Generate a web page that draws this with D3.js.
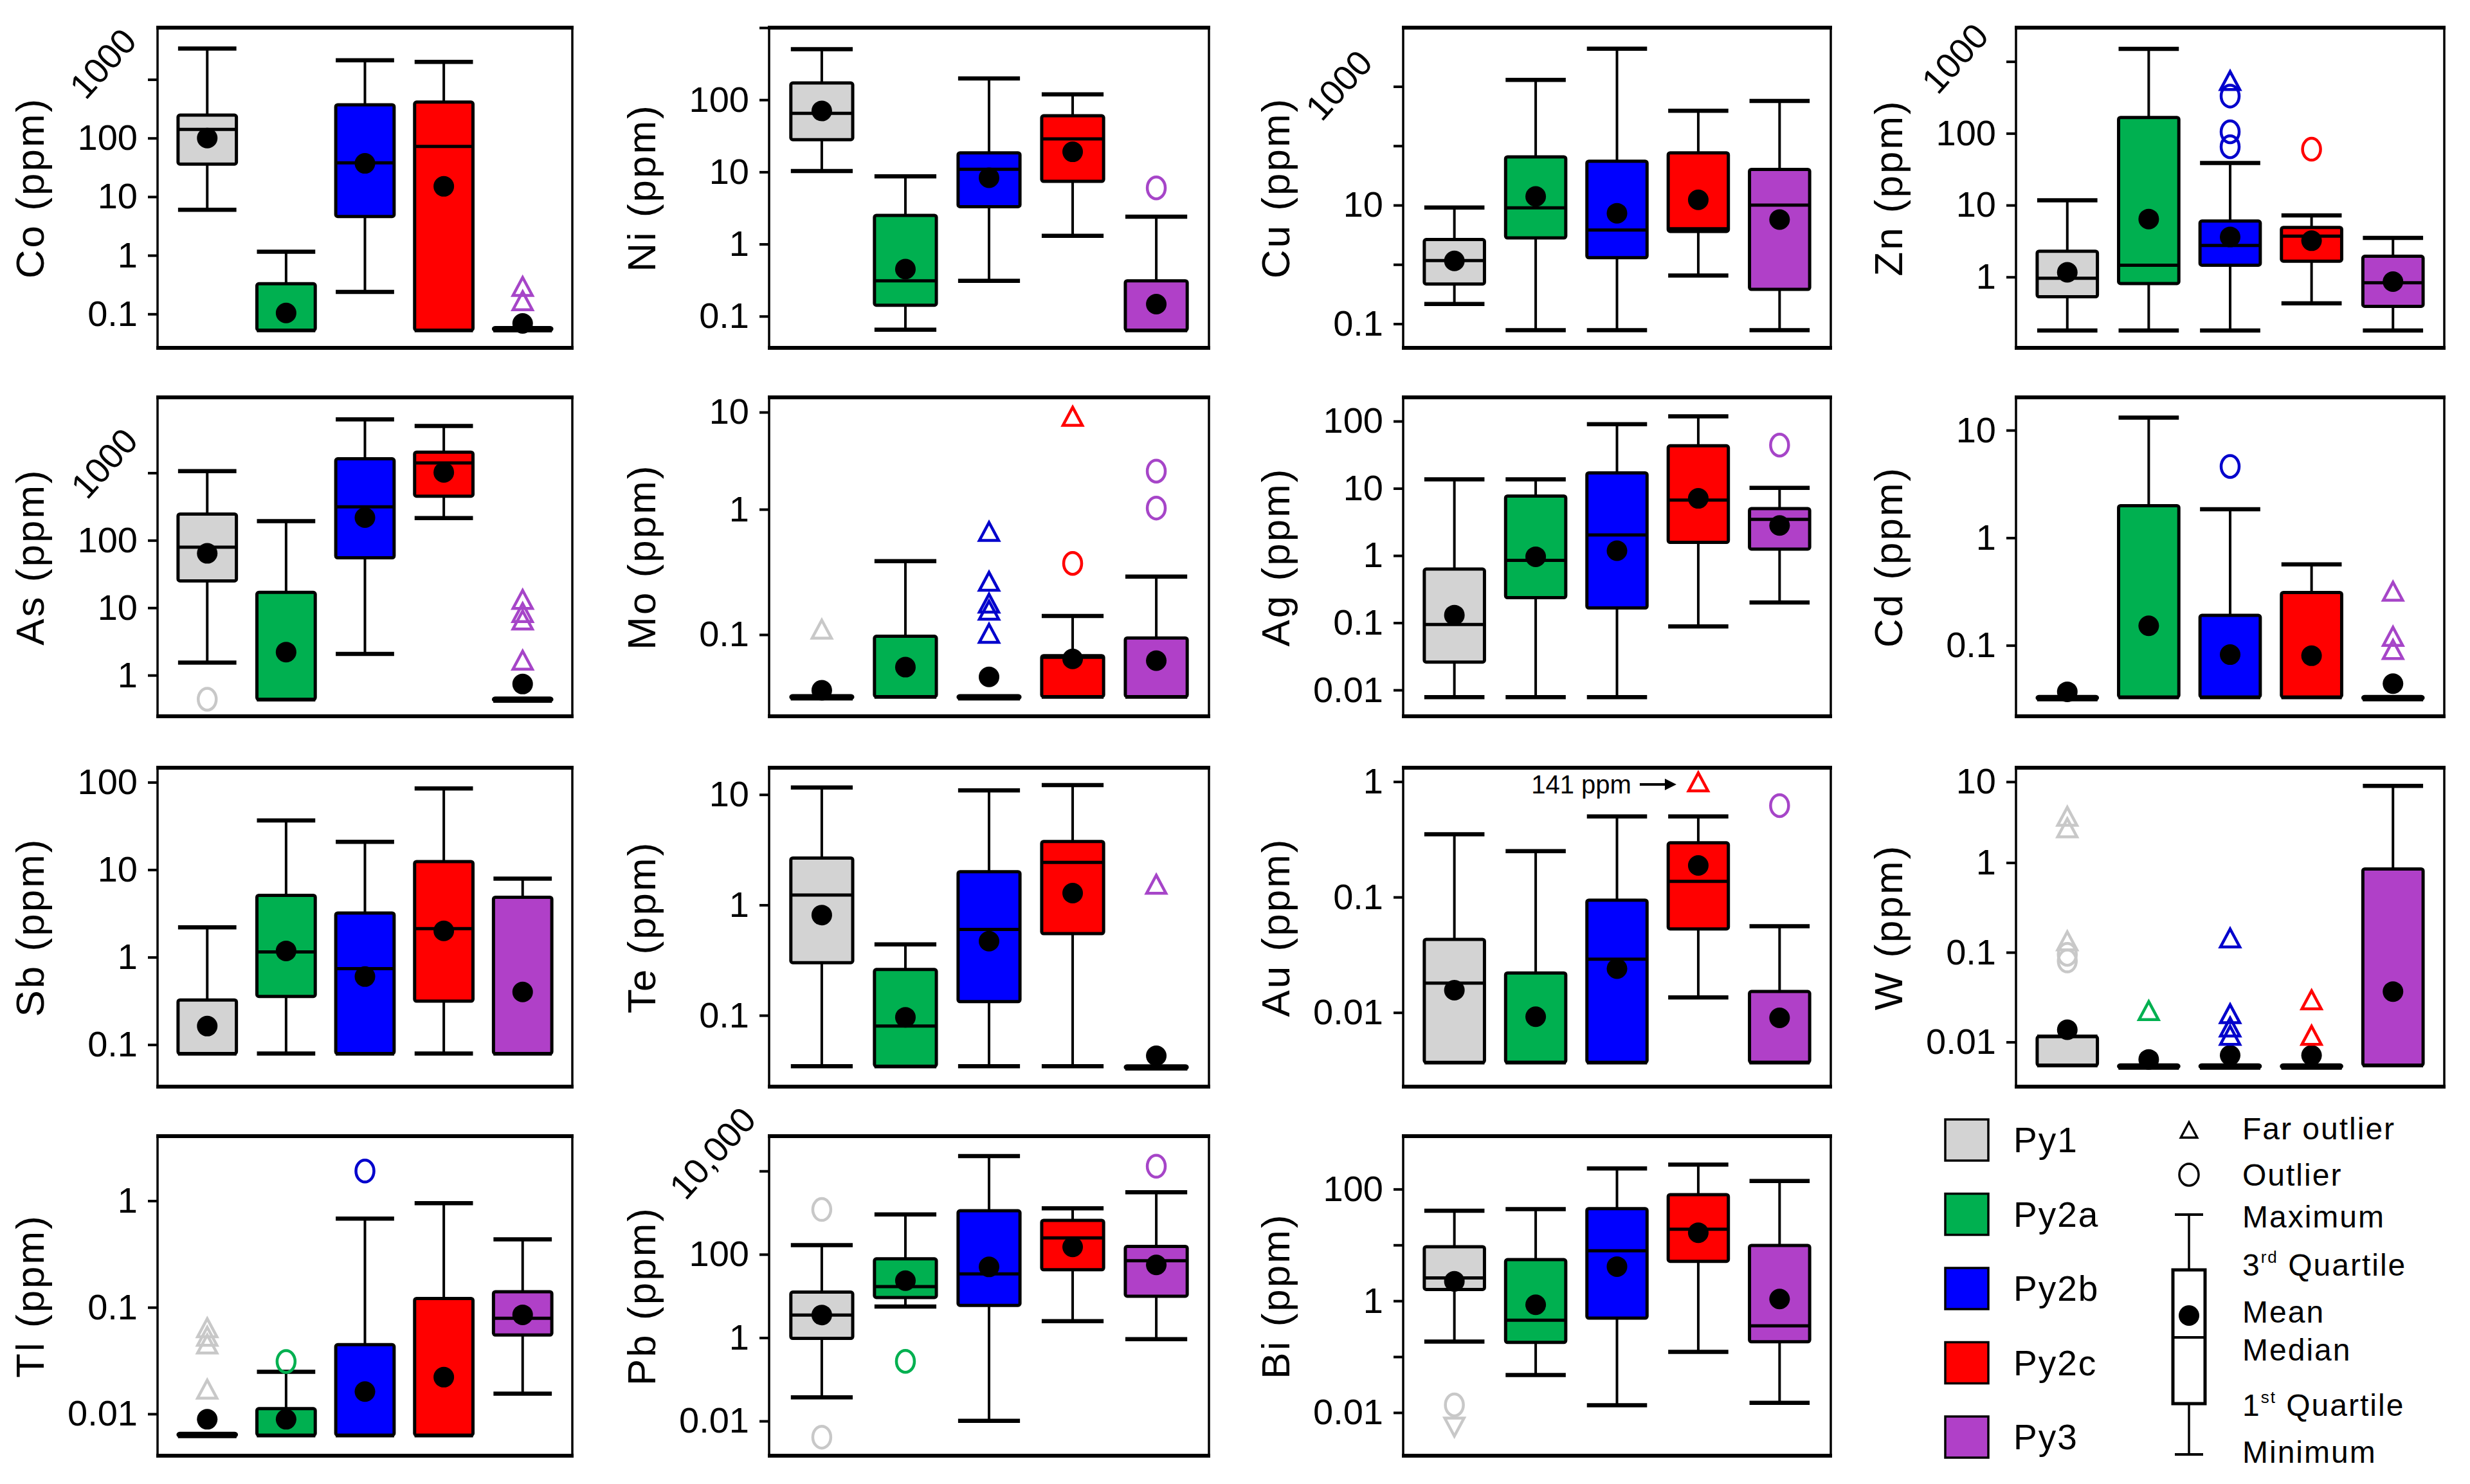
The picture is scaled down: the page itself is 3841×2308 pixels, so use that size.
<!DOCTYPE html>
<html>
<head>
<meta charset="utf-8">
<script src="https://cdn.jsdelivr.net/npm/d3@7"></script>
<style>
  body { margin: 0; background: #fff; }
  svg { display: block; }
  text { font-family: "Liberation Sans", Arial, Helvetica, sans-serif; }
</style>
</head>
<body>
<svg id="chart"></svg>
<script>
// Pyrite generations (box order in every panel)
const groups = ["Py1", "Py2a", "Py2b", "Py2c", "Py3"];
const elements = ["Co", "Ni", "Cu", "Zn", "As", "Mo", "Ag", "Cd", "Sb", "Te", "Au", "W", "Tl", "Pb", "Bi"];

// one row per generation: [min, Q1, median, Q3, max, mean]  (ppm)
const Co = [[6.0, 36, 141, 246, 3360, 100], [0.053, 0.053, 0.053, 0.327, 1.15, 0.104], [0.237, 4.6, 37.8, 370, 2130, 37], [0.053, 0.053, 72, 411, 1990, 15], [0.053, 0.053, 0.053, 0.053, 0.053, 0.069]];
const Ni = [[10.3, 28, 65, 171, 502, 70], [0.065, 0.142, 0.31, 2.5, 8.7, 0.45], [0.31, 3.3, 10.9, 18.4, 198, 8.3], [1.3, 7.4, 28.7, 60, 119, 19], [0.064, 0.064, 0.064, 0.31, 2.4, 0.147]];
const Cu = [[0.216, 0.469, 1.16, 2.63, 9.1, 1.15], [0.078, 2.8, 9.0, 65, 1290, 14], [0.078, 1.3, 3.8, 55, 4315, 7.3], [0.65, 3.6, 4.0, 76, 389, 12.3], [0.078, 0.38, 10, 40, 569, 5.7]];
const Zn = [[0.18, 0.53, 0.96, 2.28, 11.7, 1.16], [0.18, 0.81, 1.46, 166, 1500, 6.4], [0.18, 1.46, 2.75, 6.0, 38.6, 3.6], [0.43, 1.66, 3.7, 4.9, 7.2, 3.2], [0.18, 0.39, 0.83, 1.94, 3.5, 0.86]];
const As = [[1.54, 25, 79, 245, 1057, 64], [0.437, 0.437, 0.437, 16.9, 192, 2.2], [2.07, 55, 313, 1614, 6200, 217], [214, 451, 1405, 2024, 4940, 1016], [0.42, 0.42, 0.42, 0.42, 0.42, 0.74]];
const Mo = [[0.031, 0.031, 0.031, 0.031, 0.031, 0.036], [0.032, 0.032, 0.032, 0.097, 0.386, 0.055], [0.031, 0.031, 0.031, 0.031, 0.031, 0.046], [0.032, 0.032, 0.066, 0.068, 0.141, 0.064], [0.032, 0.032, 0.032, 0.094, 0.29, 0.062]];
const Ag = [[0.0078, 0.026, 0.094, 0.63, 13.6, 0.13], [0.0078, 0.236, 0.85, 7.7, 13.6, 0.96], [0.0078, 0.166, 2.03, 17, 90, 1.18], [0.088, 1.57, 6.7, 43, 118, 7.1], [0.2, 1.25, 3.45, 5.0, 10.2, 2.8]];
const Cd = [[0.0316, 0.0316, 0.0316, 0.0316, 0.0316, 0.037], [0.033, 0.033, 0.033, 1.99, 13.1, 0.152], [0.033, 0.033, 0.033, 0.19, 1.84, 0.082], [0.033, 0.033, 0.033, 0.31, 0.565, 0.08], [0.0316, 0.0316, 0.0316, 0.0316, 0.0316, 0.044]];
const Sb = [[0.079, 0.079, 0.079, 0.324, 2.19, 0.163], [0.079, 0.356, 1.15, 5.1, 36.6, 1.18], [0.079, 0.079, 0.74, 3.2, 20.8, 0.6], [0.079, 0.314, 2.12, 12.4, 85, 2.0], [0.079, 0.079, 0.079, 4.84, 7.9, 0.40]];
const Te = [[0.0346, 0.30, 1.23, 2.66, 11.6, 0.81], [0.0346, 0.0346, 0.08, 0.26, 0.44, 0.096], [0.0346, 0.133, 0.6, 2.0, 10.9, 0.47], [0.0346, 0.55, 2.43, 3.76, 12.2, 1.28], [0.033, 0.033, 0.033, 0.033, 0.033, 0.043]];
const Au = [[0.0037, 0.0037, 0.018, 0.043, 0.35, 0.0156], [0.0037, 0.0037, 0.0037, 0.022, 0.25, 0.0092], [0.0037, 0.0037, 0.029, 0.094, 0.50, 0.024], [0.0135, 0.053, 0.137, 0.295, 0.50, 0.188], [0.0037, 0.0037, 0.0037, 0.0152, 0.056, 0.009]];
const W = [[0.0055, 0.0055, 0.0055, 0.0115, 0.0115, 0.0137], [0.0052, 0.0052, 0.0052, 0.0052, 0.0052, 0.0064], [0.0052, 0.0052, 0.0052, 0.0052, 0.0052, 0.0071], [0.0052, 0.0052, 0.0052, 0.0052, 0.0052, 0.0071], [0.0055, 0.0055, 0.0055, 0.85, 8.9, 0.0365]];
const Tl = [[0.0062, 0.0062, 0.0062, 0.0062, 0.0062, 0.0089], [0.0063, 0.0063, 0.0063, 0.0112, 0.0248, 0.0089], [0.0063, 0.0063, 0.0063, 0.0446, 0.68, 0.0162], [0.0063, 0.0063, 0.0063, 0.121, 0.95, 0.0221], [0.0155, 0.055, 0.079, 0.14, 0.435, 0.085]];
const Pb = [[0.037, 0.96, 3.5, 12.4, 166, 3.5], [5.6, 9.2, 16.8, 78, 910, 23.4], [0.0101, 5.95, 34, 1112, 22800, 50], [2.5, 42.7, 247, 653, 1270, 151], [0.92, 9.9, 70.5, 155, 3100, 55.7]];
const Bi = [[0.187, 1.6, 2.57, 9.3, 41, 2.23], [0.047, 0.18, 0.45, 5.46, 43.9, 0.85], [0.0135, 0.49, 7.9, 44.8, 234, 4.1], [0.122, 5.1, 19.2, 79.6, 275, 16.6], [0.0149, 0.185, 0.356, 9.8, 140, 1.08]];

// [element, generation, kind, value]   kind: "far" = far outlier, "near" = outlier
const outliers = [
  ["Co", "Py3", "far", 0.28], ["Co", "Py3", "far", 0.16],
  ["Ni", "Py3", "near", 6.0],
  ["Zn", "Py2b", "far", 520], ["Zn", "Py2b", "near", 330], ["Zn", "Py2b", "near", 105], ["Zn", "Py2b", "near", 65],
  ["Zn", "Py2c", "near", 60],
  ["As", "Py1", "near", 0.44],
  ["As", "Py3", "far", 12.7], ["As", "Py3", "far", 8.1], ["As", "Py3", "far", 6.3], ["As", "Py3", "far", 1.6],
  ["Mo", "Py1", "far", 0.108],
  ["Mo", "Py2b", "far", 0.65], ["Mo", "Py2b", "far", 0.26], ["Mo", "Py2b", "far", 0.174], ["Mo", "Py2b", "far", 0.153], ["Mo", "Py2b", "far", 0.1],
  ["Mo", "Py2c", "far", 8.8], ["Mo", "Py2c", "near", 0.37],
  ["Mo", "Py3", "near", 2.47], ["Mo", "Py3", "near", 1.03],
  ["Ag", "Py3", "near", 44],
  ["Cd", "Py2b", "near", 4.6],
  ["Cd", "Py3", "far", 0.31], ["Cd", "Py3", "far", 0.118], ["Cd", "Py3", "far", 0.089],
  ["Te", "Py3", "far", 1.5],
  ["Au", "Py2c", "far", 141], ["Au", "Py3", "near", 0.62],
  ["W", "Py1", "far", 3.6], ["W", "Py1", "far", 2.6], ["W", "Py1", "far", 0.13], ["W", "Py1", "near", 0.095], ["W", "Py1", "near", 0.08],
  ["W", "Py2a", "far", 0.0217],
  ["W", "Py2b", "far", 0.14], ["W", "Py2b", "far", 0.02], ["W", "Py2b", "far", 0.0142], ["W", "Py2b", "far", 0.0115],
  ["W", "Py2c", "far", 0.0286], ["W", "Py2c", "far", 0.0115],
  ["Tl", "Py1", "far", 0.0626], ["Tl", "Py1", "far", 0.052], ["Tl", "Py1", "far", 0.044], ["Tl", "Py1", "far", 0.0166],
  ["Tl", "Py2a", "near", 0.031], ["Tl", "Py2b", "near", 1.9],
  ["Pb", "Py1", "near", 1190], ["Pb", "Py1", "near", 0.0041], ["Pb", "Py2a", "near", 0.27], ["Pb", "Py3", "near", 13000],
  ["Bi", "Py1", "near", 0.0137], ["Bi", "Py1", "farDown", 0.0058]
];

const stats = { Co, Ni, Cu, Zn, As, Mo, Ag, Cd, Sb, Te, Au, W, Tl, Pb, Bi };

const axes = {
  Co: { dom: [0.0264, 7650], ticks: [0.1, 1, 10, 100, 1000], show: [0.1, 1, 10, 100], rot: [1000, -85, -25] },
  Ni: { dom: [0.0364, 1000], ticks: [0.1, 1, 10, 100, 1000], show: [0.1, 1, 10, 100] },
  Cu: { dom: [0.0393, 9800], ticks: [0.1, 1, 10, 100, 1000], show: [0.1, 10], rot: [1000, -100, -2] },
  Zn: { dom: [0.103, 2960], ticks: [1, 10, 100, 1000], show: [1, 10, 100], rot: [1000, -95, -5] },
  As: { dom: [0.246, 13150], ticks: [1, 10, 100, 1000], show: [1, 10, 100], rot: [1000, -83, -15] },
  Mo: { dom: [0.0223, 14.2], mid: 0.351, ticks: [0.1, 1, 10], show: [0.1, 1, 10] },
  Ag: { dom: [0.00406, 226], ticks: [0.01, 0.1, 1, 10, 100], show: [0.01, 0.1, 1, 10, 100] },
  Cd: { dom: [0.0219, 20.2], ticks: [0.1, 1, 10], show: [0.1, 1, 10] },
  Sb: { dom: [0.0331, 146.6], ticks: [0.1, 1, 10, 100], show: [0.1, 1, 10, 100] },
  Te: { dom: [0.0226, 17.5], ticks: [0.1, 1, 10], show: [0.1, 1, 10] },
  Au: { dom: [0.00228, 1.32], ticks: [0.01, 0.1, 1], show: [0.01, 0.1, 1], cap: 0.97 },
  W:  { dom: [0.00318, 14.9], mid: 0.2976, ticks: [0.01, 0.1, 1, 10], show: [0.01, 0.1, 1, 10] },
  Tl: { dom: [0.00405, 4.04], ticks: [0.01, 0.1, 1], show: [0.01, 0.1, 1] },
  Pb: { dom: [0.00147, 68600], ticks: [0.01, 1, 100, 10000], show: [0.01, 1, 100], rot: [10000, -88, -28] },
  Bi: { dom: [0.00169, 887], ticks: [0.01, 0.1, 1, 10, 100], show: [0.01, 1, 100] }
};

const fills = { Py1: "#d3d3d3", Py2a: "#00b050", Py2b: "#0000ff", Py2c: "#ff0000", Py3: "#b040c8" };
const outColor = { Py1: "#c8c8c8", Py2a: "#00b050", Py2b: "#0000cc", Py2c: "#ff0000", Py3: "#a645c8" };

// page geometry
const width = 3841, height = 2308;
const colLeft = [245, 1196, 2182, 3135], colRight = [890, 1880, 2847, 3801];
const rowTop = [43, 618, 1194, 1767], rowBottom = [541, 1114, 1690, 2264];

const svg = d3.select("#chart").attr("width", width).attr("height", height);
svg.append("rect").attr("width", width).attr("height", height).attr("fill", "#fff");

const fmt = v => v >= 10000 ? d3.format(",")(v) : String(v);
const triUp = "M0,-16 L15,12 L-15,12 Z";
const triDown = "M0,16 L15,-12 L-15,-12 Z";

elements.forEach((el, i) => {
  const col = i % 4, row = Math.floor(i / 4);
  const L = colLeft[col], R = colRight[col], T = rowTop[row], B = rowBottom[row];
  const ax = axes[el];

  const y = ax.mid
    ? d3.scaleLog().domain([ax.dom[0], 1, ax.dom[1]]).range([B, T + (B - T) * ax.mid, T])
    : d3.scaleLog().domain(ax.dom).range([B, T]);
  const x = d3.scalePoint().domain(groups).range([L, R]).padding(0.63);
  const bw = x.step() * 0.74;

  const g = svg.append("g");

  // y axis
  const yAxis = d3.axisLeft(y)
    .tickValues(ax.ticks)
    .tickSize(15)
    .tickPadding(16)
    .tickFormat(v => ax.show.includes(v) ? fmt(v) : "");
  const axG = g.append("g").attr("transform", `translate(${L},0)`).call(yAxis);
  axG.select(".domain").remove();
  axG.selectAll(".tick line").attr("stroke", "#000").attr("stroke-width", 4);
  axG.selectAll(".tick text")
    .attr("fill", "#000")
    .style("font-size", "56px")
    .style("font-family", "'Liberation Sans', Arial, sans-serif");

  if (ax.rot) {
    const [v, dx, dy] = ax.rot;
    const cx = L + dx, cy = y(v) + dy;
    g.append("text")
      .attr("transform", `translate(${cx},${cy}) rotate(-48)`)
      .attr("text-anchor", "middle")
      .attr("dy", "0.35em")
      .style("font-size", "55px")
      .text(fmt(v));
  }

  // axis title
  const ty = (T + B) / 2, tx = L - 177;
  g.append("text")
    .attr("transform", `translate(${tx},${ty}) rotate(-90)`)
    .attr("text-anchor", "middle")
    .style("font-size", "62px")
    .style("letter-spacing", "3px")
    .text(`${el} (ppm)`);

  // boxes
  const data = stats[el].map((s, k) => ({ grp: groups[k], min: s[0], q1: s[1], med: s[2], q3: s[3], max: s[4], mean: s[5] }));
  const bx = g.selectAll(".bx").data(data).enter().append("g");

  bx.append("line") // upper whisker
    .attr("x1", d => x(d.grp)).attr("x2", d => x(d.grp))
    .attr("y1", d => y(d.q3)).attr("y2", d => y(d.max))
    .attr("stroke", "#000").attr("stroke-width", 4);
  bx.append("line") // lower whisker
    .attr("x1", d => x(d.grp)).attr("x2", d => x(d.grp))
    .attr("y1", d => y(d.q1)).attr("y2", d => y(d.min))
    .attr("stroke", "#000").attr("stroke-width", 4);
  ["max", "min"].forEach(k => {
    bx.append("line")
      .attr("x1", d => x(d.grp) - bw / 2).attr("x2", d => x(d.grp) + bw / 2)
      .attr("y1", d => y(d[k])).attr("y2", d => y(d[k]))
      .attr("stroke", "#000").attr("stroke-width", 6.5);
  });
  bx.append("rect")
    .attr("x", d => x(d.grp) - bw / 2)
    .attr("width", bw)
    .attr("y", d => Math.min(y(d.q3), y(d.q1) - 4))
    .attr("height", d => Math.max(4, y(d.q1) - y(d.q3)))
    .attr("rx", 3)
    .attr("fill", d => fills[d.grp])
    .attr("stroke", "#000").attr("stroke-width", 5);
  bx.append("circle")
    .attr("cx", d => x(d.grp)).attr("cy", d => y(d.mean))
    .attr("r", 16).attr("fill", "#000");
  bx.append("line")
    .attr("x1", d => x(d.grp) - bw / 2).attr("x2", d => x(d.grp) + bw / 2)
    .attr("y1", d => y(d.med)).attr("y2", d => y(d.med))
    .attr("stroke", "#000").attr("stroke-width", 5);

  // outliers
  const outs = outliers.filter(o => o[0] === el);
  outs.forEach(([, grp, kind, v]) => {
    const shown = ax.cap ? Math.min(v, ax.cap) : v;
    const cx = x(grp), cy = y(shown);
    if (kind === "near") {
      g.append("ellipse").attr("cx", cx).attr("cy", cy).attr("rx", 14).attr("ry", 17)
        .attr("fill", "none").attr("stroke", outColor[grp]).attr("stroke-width", 4.5);
    } else {
      g.append("path").attr("d", kind === "farDown" ? triDown : triUp)
        .attr("transform", `translate(${cx},${cy})`)
        .attr("fill", "none").attr("stroke", outColor[grp]).attr("stroke-width", 4.5)
        .attr("stroke-linejoin", "miter");
    }
    if (ax.cap && v > ax.cap) {
      // off-scale value, written next to its marker
      g.append("line").attr("x1", cx - 91).attr("x2", cx - 48).attr("y1", cy + 2).attr("y2", cy + 2)
        .attr("stroke", "#000").attr("stroke-width", 4);
      g.append("path").attr("d", `M${cx - 34},${cy + 2} L${cx - 52},${cy - 7} L${cx - 52},${cy + 11} Z`).attr("fill", "#000");
      g.append("text").attr("x", cx - 104).attr("y", cy + 2).attr("dy", "0.35em")
        .attr("text-anchor", "end").style("font-size", "40px").text(`${v} ppm`);
    }
  });

  // frame
  g.append("rect").attr("x", L).attr("y", T).attr("width", R - L).attr("height", B - T)
    .attr("fill", "none").attr("stroke", "#000").attr("stroke-width", 3.5);
  [T, B].forEach(yy => {
    g.append("line").attr("x1", L - 2).attr("x2", R + 2).attr("y1", yy).attr("y2", yy)
      .attr("stroke", "#000").attr("stroke-width", 6);
  });
});

// legend: generations
const leg = svg.append("g");
const legY = d3.scalePoint().domain(groups).range([1773, 2235]);
groups.forEach(grp => {
  leg.append("rect").attr("x", 3025).attr("y", legY(grp) - 32).attr("width", 67).attr("height", 64)
    .attr("fill", fills[grp]).attr("stroke", "#000").attr("stroke-width", 3.5);
  leg.append("text").attr("x", 3131).attr("y", legY(grp)).attr("dy", "0.35em")
    .style("font-size", "55px").style("letter-spacing", "2px").text(grp);
});

// legend: box anatomy
const sx = 3404;
leg.append("path").attr("d", triUp).attr("transform", `translate(${sx},1759) scale(0.85)`)
  .attr("fill", "none").attr("stroke", "#000").attr("stroke-width", 4);
leg.append("ellipse").attr("cx", sx).attr("cy", 1827).attr("rx", 15).attr("ry", 17)
  .attr("fill", "none").attr("stroke", "#000").attr("stroke-width", 3.5);
leg.append("line").attr("x1", sx).attr("x2", sx).attr("y1", 1889).attr("y2", 2262).attr("stroke", "#000").attr("stroke-width", 3.5);
[1889, 2262].forEach(yy => leg.append("line").attr("x1", sx - 22).attr("x2", sx + 22).attr("y1", yy).attr("y2", yy)
  .attr("stroke", "#000").attr("stroke-width", 4));
leg.append("rect").attr("x", sx - 25).attr("y", 1975).attr("width", 50).attr("height", 208)
  .attr("fill", "#fff").attr("stroke", "#000").attr("stroke-width", 5);
leg.append("circle").attr("cx", sx).attr("cy", 2046).attr("r", 16).attr("fill", "#000");
leg.append("line").attr("x1", sx - 25).attr("x2", sx + 25).attr("y1", 2080).attr("y2", 2080).attr("stroke", "#000").attr("stroke-width", 4);

const legText = [
  ["Far outlier", 1772], ["Outlier", 1844], ["Maximum", 1909], ["3|rd| Quartile", 1984],
  ["Mean", 2057], ["Median", 2116], ["1|st| Quartile", 2202], ["Minimum", 2275]
];
legText.forEach(([t, by]) => {
  const tx = leg.append("text").attr("x", 3487).attr("y", by).style("font-size", "48px").style("letter-spacing", "2px");
  const parts = t.split("|");
  if (parts.length === 1) { tx.text(t); return; }
  tx.append("tspan").text(parts[0]);
  tx.append("tspan").attr("dy", -20).style("font-size", "26px").text(parts[1]);
  tx.append("tspan").attr("dy", 20).text(parts[2]);
});
</script>
</body>
</html>
